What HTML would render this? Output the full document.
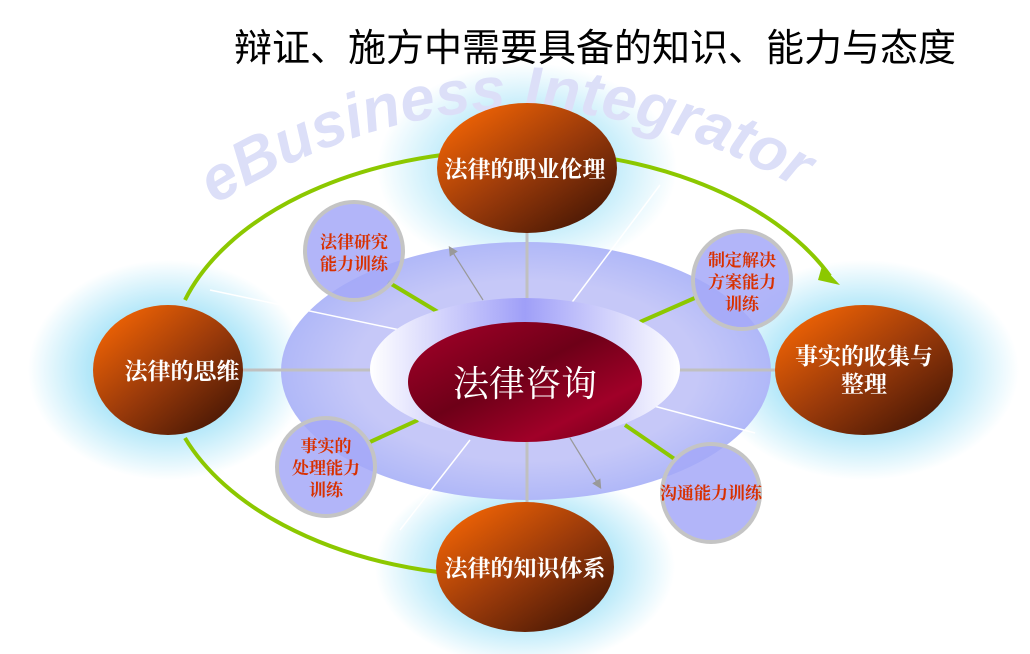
<!DOCTYPE html>
<html><head><meta charset="utf-8"><style>
body{margin:0;width:1030px;height:654px;background:#fff;overflow:hidden}
svg{display:block}
</style></head><body>
<svg width="1030" height="654" viewBox="0 0 1030 654" xmlns="http://www.w3.org/2000/svg">
<defs>
<radialGradient id="glow"><stop offset="0.5" stop-color="#a8e4f8"/><stop offset="1" stop-color="#a8e4f8" stop-opacity="0"/></radialGradient>
<linearGradient id="brown" x1="0.15" y1="0.15" x2="0.85" y2="0.9"><stop offset="0" stop-color="#e55e05"/><stop offset="0.5" stop-color="#9a3a0a"/><stop offset="1" stop-color="#4e1a05"/></linearGradient>
<linearGradient id="red" x1="0" y1="0" x2="1" y2="1"><stop offset="0" stop-color="#a8002a"/><stop offset="0.45" stop-color="#6e0018"/><stop offset="0.75" stop-color="#a00028"/><stop offset="1" stop-color="#6a0018"/></linearGradient>
<linearGradient id="inner" x1="0" y1="0" x2="1" y2="0"><stop offset="0" stop-color="#fff"/><stop offset="0.5" stop-color="#9f9ff8"/><stop offset="1" stop-color="#fff"/></linearGradient>
<radialGradient id="big"><stop offset="0.7" stop-color="#c6c8f8"/><stop offset="1" stop-color="#b0b8f8"/></radialGradient>
<path id="wm" d="M215,205 Q510,20 810,195"/>
<marker id="ar" markerWidth="8" markerHeight="8" refX="6" refY="4" orient="auto"><path d="M0,0 L8,4 L0,8z" fill="#999"/></marker>
</defs>
<ellipse cx="168" cy="370" rx="140" ry="110" fill="url(#glow)"/>
<ellipse cx="864" cy="370" rx="155" ry="110" fill="url(#glow)"/>
<ellipse cx="527" cy="168" rx="150" ry="105" fill="url(#glow)" opacity="0.8"/>
<ellipse cx="525" cy="567" rx="150" ry="100" fill="url(#glow)"/>
<text font-family="Liberation Sans, sans-serif" font-size="62" font-weight="bold" font-style="italic" fill="#dcdff8"><textPath href="#wm">eBusiness Integrator</textPath></text>
<text x="595" y="61" text-anchor="middle" font-family="Liberation Sans, 'Noto Sans CJK SC', sans-serif" font-size="38" fill="#000">辩证、施方中需要具备的知识、能力与态度</text>
<path d="M185,300 A345,212 0 0 1 830,276" fill="none" stroke="#8cc800" stroke-width="4"/>
<path d="M822,266 L840,285 L818,280z" fill="#8cc800"/>
<path d="M185,438 A345,212 0 0 0 438,572" fill="none" stroke="#8cc800" stroke-width="4"/>
<ellipse cx="526" cy="371" rx="245" ry="129" fill="url(#big)"/>
<line x1="243" y1="370" x2="775" y2="370" stroke="#c0c0c0" stroke-width="3"/>
<line x1="527" y1="232" x2="527" y2="505" stroke="#c0c0c0" stroke-width="3"/>
<line x1="210" y1="290" x2="400" y2="330" stroke="#fff" stroke-width="1.5"/>
<line x1="570" y1="305" x2="660" y2="185" stroke="#fff" stroke-width="1.5"/>
<line x1="650" y1="405" x2="755" y2="433" stroke="#fff" stroke-width="1.5"/>
<line x1="470" y1="440" x2="400" y2="530" stroke="#fff" stroke-width="1.5"/>
<line x1="483" y1="300" x2="450" y2="248" stroke="#999" stroke-width="1.2" marker-end="url(#ar)"/>
<line x1="570" y1="438" x2="600" y2="487" stroke="#999" stroke-width="1.2" marker-end="url(#ar)"/>
<g stroke="#8cc800" stroke-width="4">
<line x1="388" y1="282" x2="438" y2="312"/>
<line x1="640" y1="322" x2="697" y2="297"/>
<line x1="370" y1="442" x2="418" y2="420"/>
<line x1="625" y1="425" x2="676" y2="460"/>
</g>
<ellipse cx="525" cy="369" rx="155" ry="71" fill="url(#inner)"/>
<ellipse cx="525" cy="382" rx="117" ry="60" fill="url(#red)"/>
<text x="525" y="396" text-anchor="middle" font-family="Liberation Serif, 'Noto Serif CJK SC', serif" font-size="36" fill="#fff">法律咨询</text>
<g fill="#a4a8f8" fill-opacity="0.85" stroke="#c4c4c4" stroke-width="4">
<circle cx="354" cy="251" r="49"/>
<circle cx="742" cy="280" r="49"/>
<circle cx="326" cy="467" r="49"/>
<circle cx="711" cy="493" r="49"/>
</g>
<g font-family="Liberation Serif, 'Noto Serif CJK SC', serif" font-size="17" font-weight="bold" fill="#d83000" text-anchor="middle">
<text x="354" y="248">法律研究</text><text x="354" y="270">能力训练</text>
<text x="742" y="266">制定解决</text><text x="742" y="288">方案能力</text><text x="742" y="310">训练</text>
<text x="326" y="452">事实的</text><text x="326" y="474">处理能力</text><text x="326" y="496">训练</text>
<text x="711" y="499">沟通能力训练</text>
</g>
<ellipse cx="527" cy="168" rx="90" ry="65" fill="url(#brown)"/>
<ellipse cx="168" cy="370" rx="75" ry="65" fill="url(#brown)"/>
<ellipse cx="864" cy="370" rx="89" ry="65" fill="url(#brown)"/>
<ellipse cx="525" cy="567" rx="89" ry="65" fill="url(#brown)"/>
<g font-family="Liberation Serif, 'Noto Serif CJK SC', serif" font-size="23" font-weight="bold" fill="#fff" text-anchor="middle">
<text x="525" y="177">法律的职业伦理</text>
<text x="182" y="379">法律的思维</text>
<text x="864" y="364">事实的收集与</text><text x="864" y="392">整理</text>
<text x="525" y="576">法律的知识体系</text>
</g>
</svg>
</body></html>
